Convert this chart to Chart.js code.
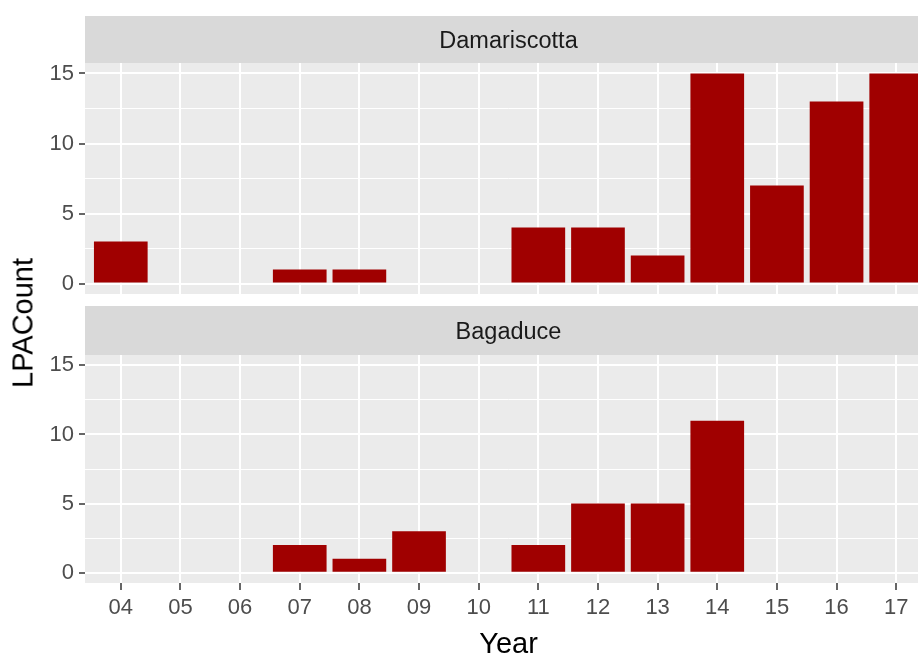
<!DOCTYPE html>
<html>
<head>
<meta charset="utf-8">
<script src="https://cdn.jsdelivr.net/npm/chart.js@4.4.1/dist/chart.umd.min.js"></script>
<style>
  body { margin: 0; width: 918px; height: 655px; overflow: hidden; background: #fff; position: relative; font-family: "Liberation Sans", Arial, sans-serif; }
  canvas { position: absolute; left: 0; }
  #topPanel { top: 0; }
  #bottomPanel { top: 293px; }
  #ylab { position: absolute; left: 23px; top: 323px; transform: translate(-50%, -50%) rotate(-90deg); font-size: 29px; white-space: nowrap; color: #000; }
</style>
</head>
<body>
<canvas id="topPanel" width="932" height="294"></canvas>
<canvas id="bottomPanel" width="932" height="362"></canvas>
<div id="ylab">LPACount</div>
<script>
// data dari gambar
const years = ['04', '05', '06', '07', '08', '09', '10', '11', '12', '13', '14', '15', '16', '17'];
const damariscotta = [3, null, null, 1, 1, null, null, 4, 4, 2, 15, 7, 13, 15];
const bagaduce = [null, null, null, 2, 1, 3, null, 2, 5, 5, 11, null, null, null];
const yMajor = [0, 5, 10, 15];
const yMinor = [2.5, 7.5, 12.5];

const barColor = '#A00000';
const fontFamily = '"Liberation Sans", Arial, sans-serif';

// strip abu-abu + latar panel
const stripPlugin = {
  id: 'strip',
  beforeDraw(chart, args, opts) {
    const ctx = chart.ctx;
    const a = chart.chartArea;
    ctx.save();
    ctx.fillStyle = '#D9D9D9';
    ctx.fillRect(a.left, opts.top, a.right - a.left, a.top - opts.top);
    ctx.fillStyle = '#EBEBEB';
    ctx.fillRect(a.left, a.top, a.right - a.left, a.bottom - a.top);
    ctx.fillStyle = '#1A1A1A';
    ctx.font = '23.5px ' + fontFamily;
    ctx.textAlign = 'center';
    ctx.textBaseline = 'middle';
    ctx.fillText(opts.text, (a.left + a.right) / 2, (opts.top + a.top) / 2 + 2);
    ctx.restore();
  }
};

function toPoints(vals) {
  return years.map((y, i) => ({ x: parseInt(y, 10), y: vals[i] }));
}

function makePanel(id, name, vals, showX, padTop, stripTop) {
  const ctx = document.getElementById(id).getContext('2d');
  return new Chart(ctx, {
    type: 'bar',
    data: {
      datasets: [{
        label: name,
        data: toPoints(vals),
        backgroundColor: barColor,
        borderWidth: 0,
        barPercentage: 0.9,
        categoryPercentage: 1.0
      }]
    },
    options: {
      responsive: false,
      animation: false,
      layout: { padding: { top: padTop, left: 0, right: 0, bottom: 0 } },
      plugins: {
        legend: { display: false },
        tooltip: { enabled: false },
        strip: { text: name, top: stripTop }
      },
      scales: {
        x: {
          type: 'linear',
          min: 3.4,
          max: 17.6,
          offset: false,
          border: { display: false },
          afterBuildTicks: scale => {
            scale.ticks = years.map(y => ({ value: parseInt(y, 10) }));
          },
          afterFit: scale => {
            scale.height = showX ? 72 : 0;
            scale.paddingLeft = 0;
            scale.paddingRight = 0;
          },
          grid: {
            offset: false,
            color: '#FFFFFF',
            lineWidth: 2,
            drawTicks: showX,
            tickLength: 7,
            tickColor: '#333333',
            tickWidth: 1.5
          },
          ticks: {
            display: showX,
            autoSkip: false,
            maxRotation: 0,
            padding: 5,
            color: '#4D4D4D',
            font: { family: fontFamily, size: 22 },
            callback: value => {
              const i = years.findIndex(y => parseInt(y, 10) === value);
              return i >= 0 ? years[i] : '';
            }
          },
          title: {
            display: showX,
            text: 'Year',
            color: '#000000',
            font: { family: fontFamily, size: 29, lineHeight: 1 },
            padding: { top: 0, bottom: -4 }
          }
        },
        y: {
          min: -0.75,
          max: 15.75,
          border: { display: false },
          afterBuildTicks: scale => {
            scale.ticks = yMajor.concat(yMinor).sort((p, q) => p - q).map(v => ({ value: v }));
          },
          afterFit: scale => {
            scale.width = 85;
            scale.paddingTop = 0;
            scale.paddingBottom = 0;
          },
          grid: {
            color: '#FFFFFF',
            lineWidth: c => (c.tick && yMajor.includes(c.tick.value)) ? 2 : 1,
            tickLength: 6,
            tickWidth: 1.5,
            tickColor: c => (c.tick && yMajor.includes(c.tick.value)) ? '#333333' : 'rgba(0,0,0,0)'
          },
          ticks: {
            padding: 5,
            color: '#4D4D4D',
            font: { family: fontFamily, size: 22 },
            callback: value => yMajor.includes(value) ? String(value) : ''
          }
        }
      }
    },
    plugins: [stripPlugin]
  });
}

const topChart = makePanel('topPanel', 'Damariscotta', damariscotta, false, 63, 16);
const bottomChart = makePanel('bottomPanel', 'Bagaduce', bagaduce, true, 62, 13);
</script>
</body>
</html>
